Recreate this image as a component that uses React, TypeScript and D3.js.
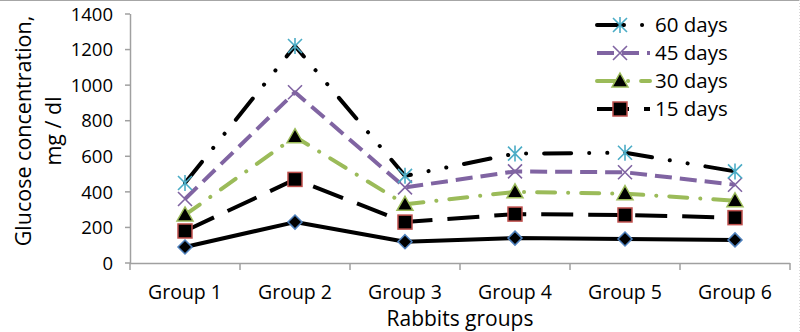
import React from "react";
import * as d3 from "d3";

const categories = ["Group 1", "Group 2", "Group 3", "Group 4", "Group 5", "Group 6"];
const yTicks = [0, 200, 400, 600, 800, 1000, 1200, 1400];
const base = [90, 230, 120, 140, 135, 130];
const days15 = [180, 470, 230, 275, 270, 255];
const days30 = [270, 710, 330, 400, 390, 350];
const days45 = [360, 960, 425, 515, 510, 440];
const days60 = [450, 1220, 490, 615, 620, 515];
const legendLabels = ["60 days", "45 days", "30 days", "15 days"];

type Series = {
  key: string;
  values: number[];
  color: string;
  dash: string;
  cap: "round" | "butt";
  marker: string;
  legend?: string;
};

const series: Series[] = [
  { key: "base", values: base, color: "#000", dash: "", cap: "butt", marker: "diamond" },
  { key: "d15", values: days15, color: "#000", dash: "32 15", cap: "butt", marker: "square", legend: legendLabels[3] },
  { key: "d30", values: days30, color: "#9BBB59", dash: "18 13 0.1 13", cap: "round", marker: "triangle", legend: legendLabels[2] },
  { key: "d45", values: days45, color: "#8064A2", dash: "17 8", cap: "butt", marker: "x", legend: legendLabels[1] },
  { key: "d60", values: days60, color: "#000", dash: "27 18 0.1 18 0.1 18", cap: "round", marker: "asterisk", legend: legendLabels[0] },
];

const W = 800, H = 332;
const left = 130, right = 790, top = 14, bottom = 263;
const FONT = "'Open Sans', sans-serif";

function Marker({ type, x, y }: { type: string; x: number; y: number }) {
  const s = 7;
  switch (type) {
    case "diamond":
      return <path d={`M${x},${y - s}L${x + s},${y}L${x},${y + s}L${x - s},${y}Z`} fill="#000" stroke="#4F81BD" strokeWidth={1.5} />;
    case "square":
      return <rect x={x - 7} y={y - 7} width={14} height={14} fill="#000" stroke="#C0504D" strokeWidth={1.5} />;
    case "triangle":
      return <path d={`M${x},${y - 8}L${x + 8},${y + 6}L${x - 8},${y + 6}Z`} fill="#000" stroke="#9BBB59" strokeWidth={1.5} />;
    case "x":
      return <path d={`M${x - 7},${y - 7}L${x + 7},${y + 7}M${x - 7},${y + 7}L${x + 7},${y - 7}`} stroke="#8064A2" strokeWidth={1.6} />;
    case "asterisk":
      return (
        <path
          d={`M${x - 7},${y - 7}L${x + 7},${y + 7}M${x - 7},${y + 7}L${x + 7},${y - 7}M${x},${y - 8}L${x},${y + 8}`}
          stroke="#4BACC6"
          strokeWidth={1.6}
        />
      );
  }
  return null;
}

export default function App() {
  const x = d3.scaleBand<string>().domain(categories).range([left, right]);
  const y = d3.scaleLinear().domain([0, 1400]).range([bottom, top]);
  const cx = (c: string) => (x(c) ?? 0) + x.bandwidth() / 2;
  const line = d3
    .line<number>()
    .x((_, i) => cx(categories[i]))
    .y((d) => y(d));

  const legendSeries = [...series].reverse().filter((s) => s.legend);
  const legendY = [25, 53, 81, 109];

  return (
    <svg width={W} height={H} style={{ position: "absolute", left: 0, top: 0, background: "#fff" }} fontFamily={FONT}>
      <rect x={0} y={0} width={W} height={H} fill="#fff" />
      <line x1={0} x2={W} y1={0.5} y2={0.5} stroke="#A6A6A6" />
      <line x1={W - 0.5} x2={W - 0.5} y1={0} y2={H} stroke="#D9D9D9" strokeDasharray="1 2" />
      {/* y axis */}
      <line x1={left + 0.5} x2={left + 0.5} y1={top} y2={bottom} stroke="#A0A0A0" strokeWidth={1.5} />
      {yTicks.map((t) => (
        <g key={t}>
          <line x1={left - 5} x2={left} y1={y(t)} y2={y(t)} stroke="#A0A0A0" strokeWidth={1.5} />
          <text x={left - 17} y={y(t)} dy="0.36em" textAnchor="end" fontSize={18.5} fill="#000">
            {t}
          </text>
        </g>
      ))}
      {/* x axis */}
      <line x1={left} x2={right} y1={bottom + 0.5} y2={bottom + 0.5} stroke="#A0A0A0" strokeWidth={1.5} />
      {categories.map((c, i) => (
        <line key={"t" + i} x1={x(c)!} x2={x(c)!} y1={bottom} y2={bottom + 7} stroke="#A0A0A0" strokeWidth={1.5} />
      ))}
      <line x1={right} x2={right} y1={bottom} y2={bottom + 7} stroke="#A0A0A0" strokeWidth={1.5} />
      {categories.map((c) => (
        <text key={c} x={cx(c)} y={298.5} textAnchor="middle" fontSize={19.5} fill="#000">
          {c}
        </text>
      ))}
      <text x={(left + right) / 2} y={326} textAnchor="middle" fontSize={21} fill="#000">
        Rabbits groups
      </text>
      <g transform={`translate(0, 131) rotate(-90)`}>
        <text x={0} y={31} textAnchor="middle" fontSize={21.5} fill="#000">
          Glucose concentration,
        </text>
        <text x={0} y={61} textAnchor="middle" fontSize={21.5} fill="#000">
          mg / dl
        </text>
      </g>
      {/* lines */}
      {series.map((s) => (
        <path
          key={s.key}
          d={line(s.values) ?? ""}
          fill="none"
          stroke={s.color}
          strokeWidth={4}
          strokeDasharray={s.dash || undefined}
          strokeLinecap={s.cap}
          strokeLinejoin="round"
        />
      ))}
      {series.map((s) =>
        s.values.map((v, i) => <Marker key={s.key + i} type={s.marker} x={cx(categories[i])} y={y(v)} />)
      )}
      {/* legend */}
      {legendSeries.map((s, i) => {
        const ly = legendY[i];
        return (
          <g key={"lg" + s.key}>
            <line
              x1={597}
              x2={650}
              y1={ly}
              y2={ly}
              stroke={s.color}
              strokeWidth={4}
              strokeDasharray={s.dash || undefined}
              strokeLinecap={s.cap}
            />
            <Marker type={s.marker} x={620} y={ly} />
            <text x={655} y={ly} dy="0.36em" fontSize={20.5} fill="#000">
              {s.legend}
            </text>
          </g>
        );
      })}
    </svg>
  );
}
